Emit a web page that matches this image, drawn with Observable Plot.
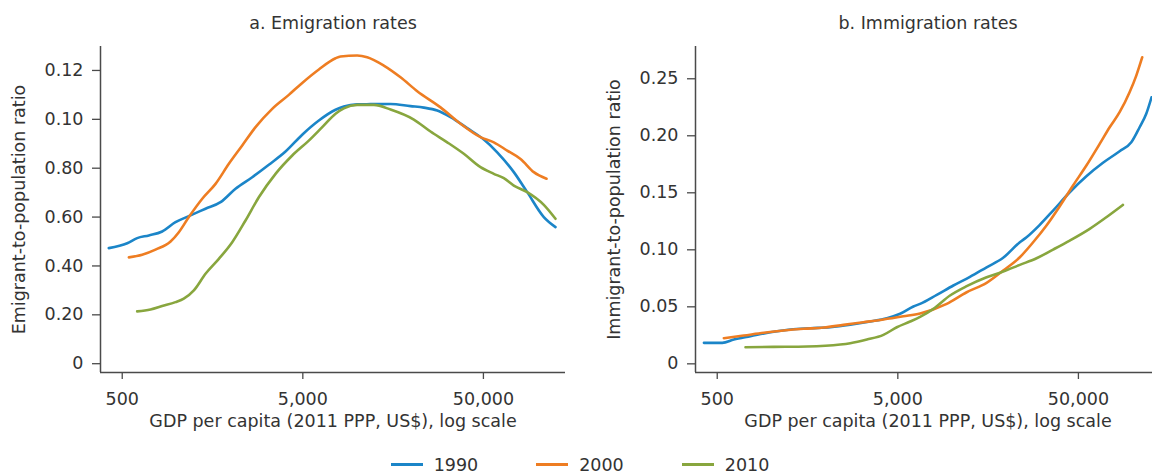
<!DOCTYPE html>
<html>
<head>
<meta charset="utf-8">
<script src="https://cdn.jsdelivr.net/npm/d3@7"></script>
<script src="https://cdn.jsdelivr.net/npm/@observablehq/plot@0.6"></script>
<style>
  html, body { margin: 0; padding: 0; background: #fff; }
  body { width: 1152px; height: 475px; overflow: hidden; font-family: "DejaVu Sans", sans-serif; color: #333; }
  #row { display: flex; width: 1152px; height: 448px; overflow: hidden; }
  #row > div { flex: none; }
  #legend { display: flex; justify-content: center; align-items: center; height: 33px; font-size: 17.5px; color: #333; padding-left: 8px; }
  .item { display: flex; align-items: center; margin: 0 29px; }
  .sw { display: inline-block; width: 32px; height: 3px; margin-right: 11px; }
</style>
</head>
<body>
<div id="row"><div id="left"></div><div id="right"></div></div>
<div id="legend"></div>
<script>
// ---------- data ----------
const years = ["1990", "2000", "2010"];
const colors = ["#1b85c8", "#ee7d22", "#88a63e"];

const xTicks = [500, 5000, 50000];
const xTickLabels = ["500", "5,000", "50,000"];
const xDomain = [379, 142400];
const xLabel = "GDP per capita (2011 PPP, US$), log scale";

const titleA = "a. Emigration rates";
const yLabelA = "Emigrant-to-population ratio";
const yTicksA = [0, 0.02, 0.04, 0.06, 0.08, 0.10, 0.12];
const yTickLabelsA = ["0", "0.20", "0.40", "0.60", "0.80", "0.10", "0.12"];
const yDomainA = [-0.0036, 0.1298];

const titleB = "b. Immigration rates";
const yLabelB = "Immigrant-to-population ratio";
const yTicksB = [0, 0.05, 0.10, 0.15, 0.20, 0.25];
const yTickLabelsB = ["0", "0.05", "0.10", "0.15", "0.20", "0.25"];
const yDomainB = [-0.0076, 0.2783];

// Emigration, 1990
const emig1990Gdp = [421, 533, 605, 702, 832, 986, 1169, 1446, 1751, 2120, 2623, 3241, 4010, 4962, 6134, 7588, 8433, 10000, 11850, 15300, 19740, 23390, 27750, 32870, 40670, 50260, 59620, 73670, 87400, 108000, 125350];
const emig1990Val = [0.0473, 0.0493, 0.0514, 0.0525, 0.0541, 0.0579, 0.0604, 0.0634, 0.0661, 0.0716, 0.0763, 0.0814, 0.0868, 0.0937, 0.0995, 0.1039, 0.1052, 0.1061, 0.1062, 0.1063, 0.1054, 0.1048, 0.1036, 0.1009, 0.0964, 0.0917, 0.0865, 0.0784, 0.0702, 0.0600, 0.0559];
// Emigration, 2000
const emig2000Gdp = [544, 645, 764, 926, 1029, 1169, 1387, 1643, 1947, 2309, 2736, 3385, 4183, 4962, 6134, 7588, 8087, 10000, 11360, 14040, 17380, 21500, 28940, 37340, 48180, 57090, 67730, 80250, 95070, 111800];
const emig2000Val = [0.0435, 0.0446, 0.0467, 0.0500, 0.0538, 0.0600, 0.0675, 0.0736, 0.0818, 0.0893, 0.0968, 0.1043, 0.1100, 0.1149, 0.1204, 0.1250, 0.1257, 0.1261, 0.1254, 0.1220, 0.1172, 0.1115, 0.1049, 0.0982, 0.0927, 0.0906, 0.0872, 0.0838, 0.0784, 0.0757];
// Emigration, 2010
const emig2010Gdp = [605, 717, 832, 986, 1096, 1246, 1446, 1714, 2032, 2408, 2853, 3531, 4369, 5397, 6403, 7588, 8433, 10000, 12370, 15300, 20590, 25470, 31520, 38950, 48180, 57090, 64870, 73670, 87400, 108000, 125350];
const emig2010Val = [0.0214, 0.0222, 0.0236, 0.0252, 0.0266, 0.0300, 0.0368, 0.0429, 0.0497, 0.0586, 0.0681, 0.0777, 0.0852, 0.0913, 0.0968, 0.1023, 0.1045, 0.1059, 0.1059, 0.1040, 0.0999, 0.0950, 0.0906, 0.0859, 0.0804, 0.0777, 0.0759, 0.0729, 0.0702, 0.0650, 0.0593];

// Immigration, 1990
const immi1990Gdp = [422, 533, 618, 764, 985, 1271, 1639, 2113, 2726, 3516, 4348, 5148, 6101, 6640, 8216, 10150, 12540, 15510, 19160, 23690, 25810, 30560, 36200, 44760, 55350, 68390, 84550, 98140, 109100, 118750, 127060];
const immi1990Val = [0.0184, 0.0184, 0.0213, 0.0242, 0.0277, 0.0301, 0.0312, 0.0321, 0.0342, 0.0371, 0.0400, 0.0439, 0.0503, 0.0526, 0.0605, 0.0687, 0.0763, 0.0847, 0.0930, 0.1066, 0.1110, 0.1219, 0.1344, 0.1505, 0.1645, 0.1763, 0.1864, 0.1943, 0.2075, 0.2193, 0.2338];
// Immigration, 2000
const immi2000Gdp = [544, 701, 905, 1167, 1505, 1941, 2503, 3228, 4162, 5368, 6640, 9326, 12030, 15510, 19160, 23690, 28070, 33280, 39420, 46690, 55350, 65570, 74470, 84550, 96010, 104570, 112850];
const immi2000Val = [0.0225, 0.0248, 0.0272, 0.0292, 0.0307, 0.0318, 0.0342, 0.0365, 0.0389, 0.0417, 0.0442, 0.0526, 0.0628, 0.0710, 0.0818, 0.0935, 0.1066, 0.1213, 0.1382, 0.1564, 0.1739, 0.1929, 0.2075, 0.2207, 0.2382, 0.2528, 0.2689];
// Immigration, 2010
const immi2010Gdp = [717, 1027, 1571, 2400, 2726, 3371, 4162, 4937, 5848, 6640, 7865, 9726, 12030, 15510, 19160, 23690, 29310, 36200, 44760, 57740, 71390, 88180];
const immi2010Val = [0.0146, 0.0149, 0.0152, 0.0169, 0.0181, 0.0213, 0.0254, 0.0321, 0.0371, 0.0412, 0.0482, 0.0599, 0.0681, 0.0759, 0.0809, 0.0868, 0.0926, 0.1002, 0.1081, 0.1184, 0.1286, 0.1394];

// ---------- build ----------
function rows(year, gdp, val) { return gdp.map((g, i) => ({ year, gdp: g, val: val[i] })); }
const emigData = [
  ...rows("1990", emig1990Gdp, emig1990Val),
  ...rows("2000", emig2000Gdp, emig2000Val),
  ...rows("2010", emig2010Gdp, emig2010Val)
];
const immiData = [
  ...rows("1990", immi1990Gdp, immi1990Val),
  ...rows("2000", immi2000Gdp, immi2000Val),
  ...rows("2010", immi2010Gdp, immi2010Val)
];
const xTickRows = xTicks.map((t, i) => ({ t, label: xTickLabels[i] }));

const FONT = '"DejaVu Sans", sans-serif';
const AXIS = "#4a4a4a";
const TXT = "#333";

function panel({ width, marginLeft, marginRight, data, yDomain, yTicks, yTickLabels, title, yLabel }) {
  return Plot.plot({
    width, height: 448,
    marginLeft, marginRight, marginTop: 46, marginBottom: 76,
    style: { fontFamily: FONT, fontSize: "17.5px", color: TXT, background: "transparent", overflow: "visible" },
    x: { type: "log", domain: xDomain },
    y: { domain: yDomain },
    color: { domain: years, range: colors },
    marks: [
      Plot.axisX({ ticks: xTicks, tickFormat: () => "", tickSize: 7, label: null, stroke: AXIS, strokeWidth: 1.3 }),
      Plot.text(xTickRows, { x: "t", text: "label", frameAnchor: "bottom", dy: 20, lineAnchor: "top", textAnchor: "middle", fill: TXT, fontSize: 17.5 }),
      Plot.axisY({ ticks: yTicks, tickFormat: d => yTickLabels[yTicks.indexOf(d)], tickSize: 8, tickPadding: 9, label: null, stroke: AXIS, strokeWidth: 1.3, fill: TXT }),
      Plot.ruleX([xDomain[0]], { stroke: AXIS, strokeWidth: 1.5 }),
      Plot.ruleY([yDomain[0]], { stroke: AXIS, strokeWidth: 1.5 }),
      Plot.line(data, { x: "gdp", y: "val", z: "year", stroke: "year", strokeWidth: 2.6, curve: "monotone-x" }),
      Plot.text([title], { text: d => d, frameAnchor: "top", dy: -30, lineAnchor: "top", textAnchor: "middle", fill: TXT, fontSize: 17.5 }),
      Plot.text([yLabel], { text: d => d, frameAnchor: "left", dx: -81, rotate: -90, textAnchor: "middle", lineAnchor: "middle", fill: TXT, fontSize: 17.5 }),
      Plot.text([xLabel], { text: d => d, frameAnchor: "bottom", dy: 42, lineAnchor: "top", textAnchor: "middle", fill: TXT, fontSize: 17.5 })
    ]
  });
}

document.getElementById("left").append(panel({
  width: 576, marginLeft: 100, marginRight: 11, data: emigData,
  yDomain: yDomainA, yTicks: yTicksA, yTickLabels: yTickLabelsA, title: titleA, yLabel: yLabelA
}));
document.getElementById("right").append(panel({
  width: 584, marginLeft: 119, marginRight: 0, data: immiData,
  yDomain: yDomainB, yTicks: yTicksB, yTickLabels: yTickLabelsB, title: titleB, yLabel: yLabelB
}));

// legend
const legend = document.getElementById("legend");
years.forEach((y, i) => {
  const item = document.createElement("div");
  item.className = "item";
  const sw = document.createElement("span");
  sw.className = "sw";
  sw.style.background = colors[i];
  const t = document.createElement("span");
  t.textContent = y;
  item.append(sw, t);
  legend.append(item);
});
</script>
</body>
</html>
